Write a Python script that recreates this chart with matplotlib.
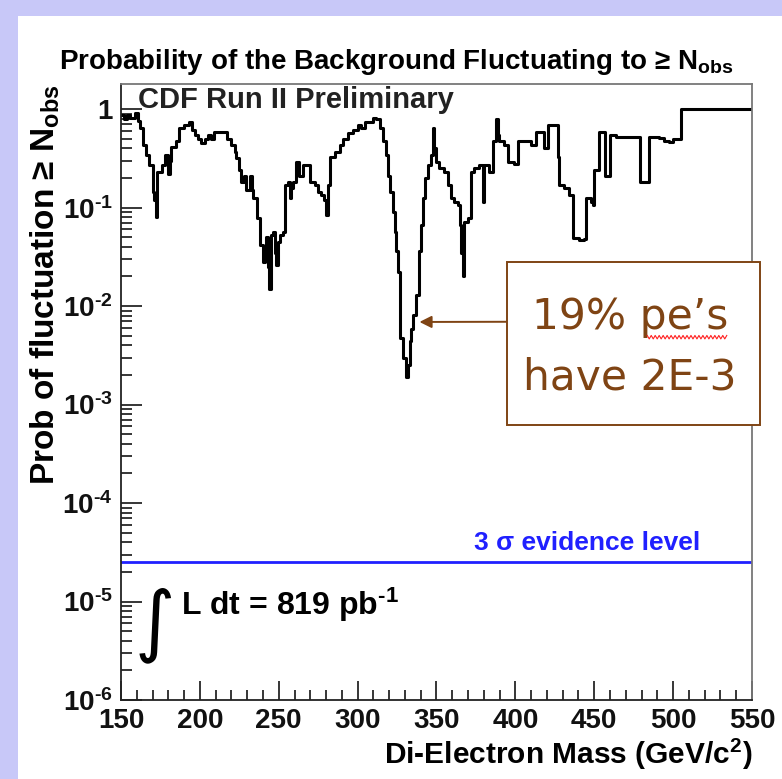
import matplotlib
matplotlib.use("Agg")
import matplotlib.pyplot as plt
import matplotlib.patches as patches
from matplotlib.ticker import FixedLocator, FuncFormatter, LogLocator, NullFormatter, MultipleLocator
import numpy as np

plt.rcParams['font.family'] = ['Liberation Sans', 'DejaVu Sans']
plt.rcParams['mathtext.default'] = 'regular'

# Step-curve data: left edge of each step (GeV/c^2) and probability
mass = [150, 152, 154, 156, 159, 161, 162, 164, 166, 168, 170, 171, 172, 173, 176, 178, 180, 181,
        182, 185, 187, 190, 193, 195, 197, 199, 201, 203, 205, 207, 209, 214, 217, 220, 222, 223,
        225, 226, 228, 229.5, 231.6, 233, 233.7, 236, 238, 240, 241, 242, 243, 244, 245, 246.4,
        247.5, 248.5, 249.5, 250.6, 252.7, 253.8, 255.9, 257, 258, 259, 261, 263, 265.4, 267.5,
        269.6, 272.8, 274.9, 277, 279, 280.2, 281.2, 282.3, 285.4, 288.6, 290.7, 293.9, 297,
        300.2, 302, 304.4, 307.6, 309.7, 311.8, 314, 316, 318, 319.2, 320.3, 322.3, 323.4,
        324.5, 325.5, 326.6, 327, 328.7, 330.8, 331.8, 332.9, 334, 335, 337, 339, 340.3, 341.3,
        342.4, 344.5, 346.6, 347.7, 348.7, 349.8, 351.9, 355, 357.2, 359.3, 361.4, 363.5, 364.6,
        365.7, 366.7, 367.7, 369.8, 372, 374, 377.2, 379.3, 380, 383.5, 385.6, 387.8, 389,
        389.9, 393, 395.1, 399.4, 401.5, 405.7, 410, 413, 417.3, 418.4, 420.5, 425.8, 426.8,
        427.8, 431, 434, 436.3, 440.5, 443.7, 444.8, 448, 449, 450, 453.2, 457, 460, 463.7,
        479, 484.4, 491, 494, 497.5, 500, 504.9, 550]
prob = [0.87, 0.80, 0.88, 0.82, 0.91, 0.75, 0.64, 0.43, 0.34, 0.27, 0.145, 0.12, 0.081, 0.23, 0.27,
        0.34, 0.22, 0.30, 0.41, 0.47, 0.64, 0.69, 0.74, 0.62, 0.54, 0.50, 0.45, 0.50, 0.54, 0.50,
        0.59, 0.59, 0.50, 0.43, 0.37, 0.32, 0.24, 0.18, 0.21, 0.15, 0.21, 0.15, 0.124, 0.078,
        0.042, 0.028, 0.035, 0.05, 0.025, 0.015, 0.053, 0.057, 0.035, 0.026, 0.045, 0.053, 0.057,
        0.17, 0.18, 0.125, 0.16, 0.18, 0.29, 0.21, 0.27, 0.27, 0.18, 0.17, 0.145, 0.134, 0.12,
        0.084, 0.17, 0.33, 0.37, 0.43, 0.50, 0.57, 0.61, 0.69, 0.64, 0.74, 0.74, 0.82, 0.80, 0.64,
        0.47, 0.34, 0.21, 0.145, 0.091, 0.057, 0.036, 0.022, 0.011, 0.0047, 0.003, 0.0019, 0.0025,
        0.0044, 0.0059, 0.0081, 0.013, 0.036, 0.066, 0.125, 0.20, 0.27, 0.34, 0.64, 0.40, 0.29,
        0.25, 0.23, 0.17, 0.124, 0.115, 0.106, 0.066, 0.035, 0.020, 0.072, 0.078, 0.23, 0.25,
        0.27, 0.115, 0.27, 0.23, 0.47, 0.80, 0.55, 0.47, 0.43, 0.29, 0.28, 0.47, 0.48, 0.43, 0.59,
        0.59, 0.40, 0.69, 0.69, 0.33, 0.17, 0.157, 0.134, 0.049, 0.047, 0.048, 0.124, 0.115,
        0.106, 0.24, 0.59, 0.21, 0.54, 0.52, 0.18, 0.52, 0.51, 0.48, 0.46, 0.50, 1.0, 1.0]

evidence_level = 2.5e-5
x_ticks = [150, 200, 250, 300, 350, 400, 450, 500, 550]
y_ticks = [1e-6, 1e-5, 1e-4, 1e-3, 1e-2, 1e-1, 1]

fig = plt.figure(figsize=(7.82, 7.79), dpi=100)
fig.patch.set_facecolor('#c8c8f8')
bg = fig.add_axes([18 / 782, 0, 1 - 18 / 782, 1 - 16 / 779], zorder=-10)
bg.set_facecolor('white')
bg.set_xticks([])
bg.set_yticks([])
for s in bg.spines.values():
    s.set_visible(False)

ax = fig.add_axes([121 / 782, 79 / 779, 631 / 782, 616 / 779], zorder=1)
ax.set_facecolor('white')
ax.set_yscale('log')
ax.set_xlim(150, 550)
ax.set_ylim(1e-6, 1.8)

ax.step(mass, prob, where='post', color='black', lw=2.2)
ax.axhline(evidence_level, color='#2020ff', lw=2.0)

# ticks
ax.xaxis.set_major_locator(FixedLocator(x_ticks))
ax.xaxis.set_minor_locator(MultipleLocator(10))
ax.yaxis.set_major_locator(FixedLocator(y_ticks))
ax.yaxis.set_minor_locator(LogLocator(base=10, subs=np.arange(2, 10), numticks=20))
ax.yaxis.set_minor_formatter(NullFormatter())


def yfmt(v, pos):
    e = int(round(np.log10(v)))
    if e == 0:
        return '1'
    return '10$^{\u2010%d}$' % (-e)


ax.yaxis.set_major_formatter(FuncFormatter(yfmt))
ax.tick_params(axis='both', which='both', direction='in', top=False, right=False)
ax.tick_params(axis='x', which='major', length=14, width=1.1, pad=6)
ax.tick_params(axis='x', which='minor', length=7, width=1.1)
ax.tick_params(axis='y', which='major', length=15, width=1.1, pad=6)
ax.tick_params(axis='y', which='minor', length=8, width=1.1)
for lab in ax.get_xticklabels() + ax.get_yticklabels():
    lab.set_fontsize(20)
    lab.set_fontweight('bold')
    lab.set_color('#111111')

for s in ['left', 'bottom']:
    ax.spines[s].set_color('#222222')
    ax.spines[s].set_linewidth(1.3)
for s in ['top', 'right']:
    ax.spines[s].set_color('#777777')
    ax.spines[s].set_linewidth(1.3)

# labels
fig.text(0.506, 0.920, 'Probability of the Background Fluctuating to \u2265 N$_{obs}$',
         ha='center', va='center', fontsize=20, fontweight='bold')
fig.text(0.058, 0.634, 'Prob of fluctuation \u2265 N$_{obs}$', rotation=90,
         ha='center', va='center', fontsize=24, fontweight='bold')
fig.text(0.962, 0.031, 'Di-Electron Mass (GeV/c$^{2}$)', ha='right', va='center',
         fontsize=21.5, fontweight='bold')

ax.text(0.027, 0.974, 'CDF Run II Preliminary', transform=ax.transAxes, ha='left',
        va='center', fontsize=21, fontweight='bold', color='#222222')
ax.text(0.918, 0.255, '3 \u03c3 evidence level', transform=ax.transAxes, ha='right',
        va='center', fontsize=19, fontweight='bold', color='#2020ff')
ax.text(0.054, 0.122, '\u222b', transform=ax.transAxes, ha='center', va='center',
        fontsize=56, family='DejaVu Sans')
ax.text(0.095, 0.154, 'L dt = 819 pb$^{\u20101}$', transform=ax.transAxes, ha='left',
        va='center', fontsize=23, fontweight='bold')

# annotation box
brown = '#7f4414'
ax.add_patch(patches.Rectangle((0.612, 0.446), 0.401, 0.265, transform=ax.transAxes,
                               fill=True, facecolor='white', edgecolor=brown, lw=1.4,
                               clip_on=False, zorder=5))
ax.text(0.807, 0.622, '19% pe\u2019s', transform=ax.transAxes, ha='center', va='center',
        fontsize=30.5, color=brown, family='DejaVu Sans', zorder=6)
ax.text(0.807, 0.524, 'have 2E-3', transform=ax.transAxes, ha='center', va='center',
        fontsize=30.5, color=brown, family='DejaVu Sans', zorder=6)
ax.annotate('', xy=(339.2, 0.0069), xycoords='data', xytext=(0.612, 0.614),
            textcoords='axes fraction',
            arrowprops=dict(arrowstyle='-|>', color=brown, lw=1.4, mutation_scale=18,
                            shrinkA=0, shrinkB=0))

# spell-check squiggle under "pe's"
wx = np.linspace(0.834, 0.960, 41)
wy = 0.589 + 0.0028 * np.where(np.arange(41) % 2 == 0, 1, -1)
ax.plot(wx, wy, color='#ff2020', lw=0.8, transform=ax.transAxes, clip_on=False, zorder=7)

fig.savefig('out.png', dpi=100, facecolor=fig.get_facecolor())
